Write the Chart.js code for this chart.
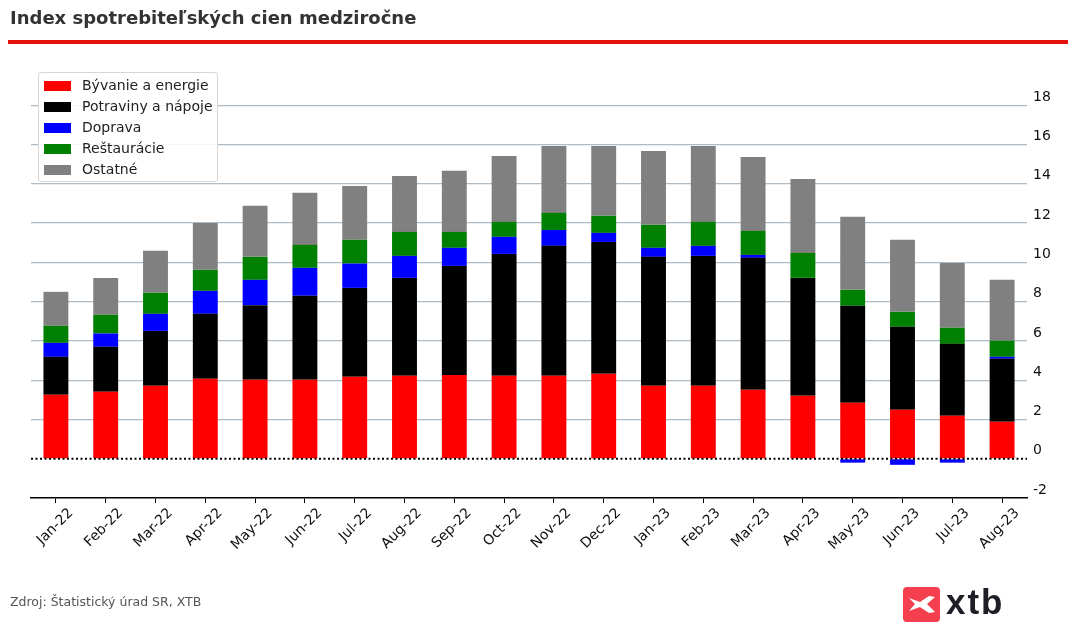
<!DOCTYPE html>
<html>
<head>
<meta charset="utf-8">
<script src="https://cdn.jsdelivr.net/npm/chart.js@4.4.0/dist/chart.umd.min.js"></script>
<style>
  body { margin: 0; background: #fff; font-family: "DejaVu Sans", sans-serif; }
  #wrap { position: relative; width: 1076px; height: 641px; overflow: hidden; }
  #title { position: absolute; left: 10px; top: 7px; font-size: 18px; font-weight: bold; color: #333; }
  #rule { position: absolute; left: 8px; top: 40px; width: 1060px; height: 4px; background: #e3120b; }
  #source { position: absolute; left: 10px; top: 594px; font-size: 12.5px; color: #555; }
  #legend { position: absolute; left: 38px; top: 72px; width: 180px; height: 110px; border: 1px solid #d6d6d6;
            border-radius: 3px; background: rgba(255,255,255,0.85); box-sizing: border-box; }
  .item { position: absolute; left: 5px; height: 21px; font-size: 14px; color: #222; line-height: 21px; }
  .item span.sw { position: absolute; left: 0; top: 6px; width: 27px; height: 10px; }
  .item span.lb { position: absolute; left: 38px; white-space: nowrap; }
  #logo { position: absolute; left: 903px; top: 587px; width: 37px; height: 35px; border-radius: 4px; background: #f33f4e; }
  #logotxt { position: absolute; left: 946px; top: 582px; font-family: "Liberation Sans", sans-serif; font-weight: bold;
             font-size: 35px; color: #1e1e26; letter-spacing: 2px; }
  canvas { position: absolute; left: 0; top: 0; }
</style>
</head>
<body>
<div id="wrap">
  <canvas id="chart" width="1076" height="641"></canvas>
  <div id="title">Index spotrebiteľských cien medziročne</div>
  <div id="rule"></div>
  <div id="legend"></div>
  <div id="source">Zdroj: Štatistický úrad SR, XTB</div>
  <div id="logo">
    <svg width="37" height="35" viewBox="0 0 37 35">
      <path d="M6 11 L17 15 L26 9 L32 10 L24 17 L32 25 L26 26 L17 20 L6 24 L12 17 Z" fill="#fff"/>
    </svg>
  </div>
  <div id="logotxt">xtb</div>
</div>
<script>
// months on the x axis
let months = ["Jan-22", "Feb-22", "Mar-22", "Apr-22", "May-22", "Jun-22", "Jul-22", "Aug-22", "Sep-22", "Oct-22",
              "Nov-22", "Dec-22", "Jan-23", "Feb-23", "Mar-23", "Apr-23", "May-23", "Jun-23", "Jul-23", "Aug-23"];

// contributions (percentage points)
let byvanie   = [3.26, 3.41, 3.72, 4.07, 4.02, 4.02, 4.17, 4.22, 4.27, 4.22, 4.22, 4.33, 3.72, 3.72, 3.51, 3.21, 2.85, 2.49, 2.19, 1.88];
let potraviny = [1.93, 2.29, 2.79, 3.31, 3.80, 4.28, 4.53, 4.99, 5.55, 6.21, 6.62, 6.71, 6.56, 6.61, 6.72, 6.00, 4.94, 4.23, 3.66, 3.21];
let doprava   = [0.71, 0.68, 0.87, 1.17, 1.29, 1.42, 1.24, 1.12, 0.92, 0.87, 0.81, 0.46, 0.46, 0.51, 0.15, 0.00, -0.20, -0.31, -0.20, 0.10];
let restauracie = [0.87, 0.95, 1.07, 1.07, 1.17, 1.17, 1.21, 1.22, 0.81, 0.76, 0.87, 0.87, 1.17, 1.22, 1.22, 1.27, 0.81, 0.76, 0.82, 0.82];
let ostatne   = [1.73, 1.88, 2.14, 2.39, 2.60, 2.65, 2.74, 2.85, 3.11, 3.36, 3.41, 3.56, 3.76, 3.87, 3.77, 3.77, 3.72, 3.67, 3.30, 3.10];

let yTicks = [-2, 0, 2, 4, 6, 8, 10, 12, 14, 16, 18];

let series = [
    { label: "Bývanie a energie", data: byvanie, color: "#ff0000" },
    { label: "Potraviny a nápoje", data: potraviny, color: "#000000" },
    { label: "Doprava", data: doprava, color: "#0000ff" },
    { label: "Reštaurácie", data: restauracie, color: "#008000" },
    { label: "Ostatné", data: ostatne, color: "#808080" }
];

// html legend
let legend = document.getElementById("legend");
series.forEach(function (s, i) {
    let d = document.createElement("div");
    d.className = "item";
    d.style.top = (2 + i * 21) + "px";
    d.innerHTML = '<span class="sw" style="background:' + s.color + '"></span><span class="lb">' + s.label + '</span>';
    legend.appendChild(d);
});

// dotted zero line over the bars
let zeroLine = {
    id: "zeroLine",
    afterDatasetsDraw: function (chart) {
        let ctx = chart.ctx;
        let y = chart.scales.y.getPixelForValue(0);
        ctx.save();
        ctx.strokeStyle = "#000";
        ctx.lineWidth = 2;
        ctx.setLineDash([2, 2.5]);
        ctx.beginPath();
        ctx.moveTo(chart.chartArea.left, y);
        ctx.lineTo(chart.chartArea.right, y);
        ctx.stroke();
        ctx.restore();
    }
};

let ctx = document.getElementById("chart").getContext("2d");
let chartview = new Chart(ctx, {
    type: "bar",
    data: {
        labels: months,
        datasets: series.map(function (s) {
            return {
                label: s.label,
                data: s.data,
                backgroundColor: s.color,
                borderWidth: 0,
                barPercentage: 0.5,
                categoryPercentage: 1.0
            };
        })
    },
    options: {
        responsive: false,
        animation: false,
        layout: { padding: { left: 31, top: 66, right: 0, bottom: 0 } },
        plugins: { legend: { display: false }, tooltip: { enabled: false } },
        scales: {
            x: {
                stacked: true,
                grid: { offset: false, drawOnChartArea: false, drawTicks: true, tickLength: 5, tickColor: "#000", tickWidth: 1 },
                border: { color: "#000", width: 1.5 },
                ticks: {
                    color: "#111",
                    font: { family: "DejaVu Sans", size: 14 },
                    maxRotation: 45,
                    minRotation: 45,
                    autoSkip: false,
                    padding: 2,
                    labelOffset: 15
                },
                afterFit: function (scale) { scale.height = 143; }
            },
            y: {
                stacked: true,
                position: "right",
                min: -2,
                max: 20,
                afterBuildTicks: function (scale) {
                    scale.ticks = yTicks.map(function (v) { return { value: v }; });
                },
                grid: {
                    drawTicks: false,
                    lineWidth: 1.2,
                    color: function (c) {
                        if (c.tick && (c.tick.value === 0 || c.tick.value === -2)) return "rgba(0,0,0,0)";
                        return "#b0bcc5";
                    }
                },
                border: { display: false },
                ticks: {
                    color: "#111",
                    font: { family: "DejaVu Sans", size: 14 },
                    padding: 6,
                    labelOffset: -8
                },
                afterFit: function (scale) { scale.width = 49; }
            }
        }
    },
    plugins: [zeroLine]
});
</script>
</body>
</html>
